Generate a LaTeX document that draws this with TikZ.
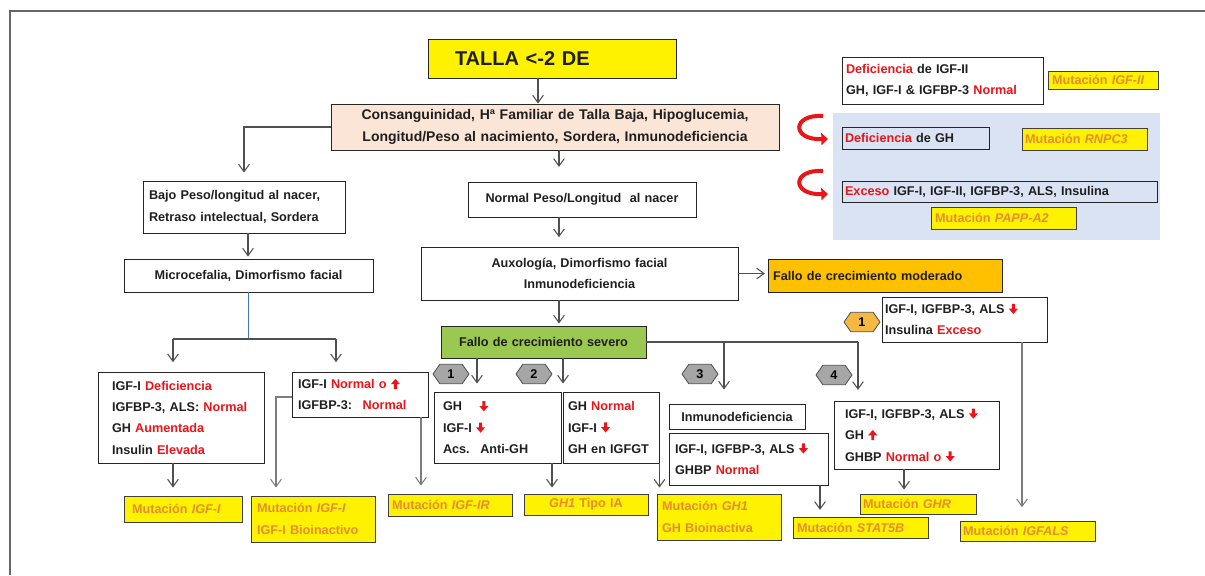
\documentclass[tikz,border=0pt]{standalone}
\usepackage{fontspec}
\setmainfont{Liberation Sans}
\usetikzlibrary{arrows.meta,shapes.symbols}
\definecolor{myred}{RGB}{235,20,25}
\definecolor{mutor}{RGB}{230,140,50}
\definecolor{peach}{RGB}{251,229,214}
\definecolor{panelc}{RGB}{218,227,243}
\definecolor{orng}{RGB}{255,192,0}
\definecolor{grn}{RGB}{155,200,80}
\definecolor{lnc}{RGB}{80,80,80}
\definecolor{lng}{RGB}{125,125,125}
\definecolor{hexg}{RGB}{166,166,166}
\definecolor{hexo}{RGB}{244,185,66}
\definecolor{bluel}{RGB}{68,114,196}
\newcommand{\rt}[1]{\textcolor{myred}{#1}}
\newcommand{\dna}{\tikz[baseline=0pt,x=1pt,y=1pt]{\fill[myred] (-1.1,7.3) -- (1.1,7.3) -- (1.1,3.7) -- (3.4,3.7) -- (0,-0.3) -- (-3.4,3.7) -- (-1.1,3.7) -- cycle;}}
\newcommand{\upa}{\tikz[baseline=0pt,x=1pt,y=1pt]{\fill[myred] (-1.1,-0.3) -- (1.1,-0.3) -- (1.1,3.3) -- (3.4,3.3) -- (0,7.3) -- (-3.4,3.3) -- (-1.1,3.3) -- cycle;}}
\newcommand{\bx}[8]{%
 \pgfmathsetmacro{\Bw}{(#4-#2)*0.75}%
 \pgfmathsetmacro{\Bh}{(#5-#3)*0.75}%
 \pgfmathsetmacro{\Bp}{#6*0.75}%
 \pgfmathsetmacro{\Tw}{\Bw-2*\Bp}%
 \node[#7, inner xsep=\Bp pt, inner ysep=0pt, text width=\Tw pt, minimum height=\Bh pt] (#1) at ({(#2+#4)/2},{(#3+#5)/2}) {#8};}
\tikzset{
 box/.style={draw=black!85, line width=0.7pt, text=black!88, align=left,
   font=\bfseries\fontsize{9.5}{16}\selectfont},
 cbox/.style={box, align=center},
 mut/.style={box, fill=yellow, text=mutor, draw=black!75},
 cmut/.style={mut, align=center},
 arr/.style={draw=lnc, line width=0.8pt, -{Straight Barb[length=5.5pt,width=8pt]}},
 arrg/.style={arr, draw=lng},
 ln/.style={draw=lnc, line width=0.8pt},
 hexn/.style={signal, signal to=east and west, signal pointer angle=110, draw=black!70,
   line width=0.6pt, fill=hexg, minimum width=27pt, minimum height=14.5pt, inner sep=0pt,
   font=\bfseries\fontsize{9.5}{10}\selectfont},
}
\begin{document}
\begin{tikzpicture}[x=0.75pt,y=-0.75pt]
\useasboundingbox (0,0) rectangle (1205,575);
\draw[draw=black!60, line width=1pt] (10,575) -- (10,11) -- (1205,11);
% right panel
\fill[panelc] (833,113) rectangle (1160,240);
% main boxes
\bx{talla}{428}{39}{676}{78}{27}{box, fill=yellow, font=\bfseries\fontsize{15}{18}\selectfont}{TALLA <-2 DE}
\bx{cons}{331}{104}{779}{150}{4}{cbox, fill=peach, font=\bfseries\fontsize{10.5}{16.5}\selectfont}{Consanguinidad, Hª Familiar de Talla Baja, Hipoglucemia,\\ Longitud/Peso al nacimiento,  Sordera, Inmunodeficiencia}
\bx{normal}{468}{182}{696}{217}{4}{cbox}{Normal Peso/Longitud~ al nacer}
\bx{bajo}{143}{181}{345}{233}{6}{box}{Bajo Peso/longitud al nacer,\\ Retraso intelectual, Sordera}
\bx{micro}{124}{259}{373}{292}{4}{cbox}{Microcefalia, Dimorfismo facial}
\bx{auxo}{421}{247}{738}{300}{4}{cbox}{Auxología, Dimorfismo facial\\ Inmunodeficiencia}
\bx{mod}{768}{259}{1002}{292}{5}{box, fill=orng}{Fallo de crecimiento moderado}
\bx{modigf}{882}{297}{1047}{342}{3}{box}{IGF-I, IGFBP-3, ALS \dna\\ Insulina \rt{Exceso}}
\bx{sev}{441}{326}{646}{358}{4}{cbox, fill=grn}{Fallo de crecimiento severo}
\bx{b1}{434}{392}{561}{463}{9}{box}{GH\hspace{13pt}\dna\\ IGF-I \dna\\ Acs.~ Anti-GH}
\bx{b2}{563}{392}{659}{463}{5}{box}{GH \rt{Normal}\\ IGF-I \dna\\ GH en IGFGT}
\bx{inm}{669}{404}{805}{429}{4}{cbox}{Inmunodeficiencia}
\bx{b3}{669}{433}{828}{485}{6}{box}{IGF-I, IGFBP-3, ALS \dna\\ GHBP \rt{Normal}}
\bx{b4}{834}{401}{999}{469}{11}{box}{IGF-I, IGFBP-3, ALS \dna\\ GH \upa\\ GHBP \rt{Normal o} \dna}
\bx{igfdef}{98}{372}{264}{463}{14}{box}{IGF-I \rt{Deficiencia}\\ IGFBP-3, ALS: \rt{Normal}\\ GH \rt{Aumentada}\\ Insulin \rt{Elevada}}
\bx{igfn}{292}{372}{428}{417}{6}{box}{IGF-I \rt{Normal o} \upa\\ IGFBP-3:~ \rt{Normal}}
% mutation boxes
\bx{migf1}{124}{496}{242}{522}{8}{mut}{Mutación \textit{IGF-I}}
\bx{migf1b}{251}{496}{375}{542}{6}{mut}{Mutación \textit{IGF-I}\\ IGF-I Bioinactivo}
\bx{migfir}{388}{494}{512}{516}{4}{mut}{Mutación \textit{IGF-IR}}
\bx{mtipo}{524}{494}{648}{515}{4}{cmut}{\textit{GH1} Tipo IA}
\bx{mgh1}{657}{494}{781}{540}{5}{mut}{Mutación \textit{GH1}\\ GH Bioinactiva}
\bx{mstat}{793}{517}{928}{538}{4}{mut}{Mutación \textit{STAT5B}}
\bx{mghr}{860}{494}{976}{514}{3}{mut}{Mutación \textit{GHR}}
\bx{mals}{960}{521}{1095}{541}{3}{mut}{Mutación \textit{IGFALS}}
% right panel boxes
\bx{defigf}{842}{57}{1043}{104}{4}{box, fill=white}{\rt{Deficiencia} de IGF-II\\ GH, IGF-I \& IGFBP-3 \rt{Normal}}
\bx{migf2}{1048}{71}{1158}{89}{4}{mut}{Mutación \textit{IGF-II}}
\bx{defgh}{842}{127}{989}{149}{3}{box}{\rt{Deficiencia} de GH}
\bx{mrnpc}{1022}{128}{1147}{150}{3}{mut}{Mutación \textit{RNPC3}}
\bx{exc}{842}{181}{1157}{202}{3}{box}{\rt{Exceso} IGF-I, IGF-II, IGFBP-3, ALS, Insulina}
\bx{mpapp}{931}{207}{1076}{229}{4}{mut}{Mutación \textit{PAPP-A2}}
% hexagons
\node[hexn] (h1) at (451,374) {1};
\node[hexn] (h2) at (534,374) {2};
\node[hexn] (h3) at (700,374) {3};
\node[hexn] (h4) at (834,375) {4};
\node[hexn, fill=hexo] (h1m) at (862,322) {1};
% red curved arrows
\draw[myred, line width=3pt, -{Triangle[length=5pt,width=9pt]}] (823,116) .. controls (792,114) and (791,140) .. (828,139);
\draw[myred, line width=3pt, -{Triangle[length=5pt,width=9pt]}] (823,171) .. controls (792,169) and (791,195) .. (828,194);
% helper coordinates
\coordinate (xa) at (538,0);
\coordinate (xc) at (559,0);
\coordinate (xm) at (248,0);
\coordinate (split) at (248,339);
\coordinate (splitL) at (173,339);
\coordinate (splitR) at (336,339);
\coordinate (xs1) at (477,0);
\coordinate (xs2) at (563,0);
\coordinate (c3) at (724,342);
\coordinate (c4) at (858,342);
\coordinate (xt) at (552,0);
\coordinate (xst) at (820,0);
\coordinate (xgh) at (904,0);
\coordinate (xal) at (1022,0);
\coordinate (xi) at (421,0);
\coordinate (xl) at (173,0);
\coordinate (ck) at (276,397);
% connectors
\draw[arr] (talla.south -| xa) -- (cons.north -| xa);
\draw[arr, shorten >=6pt] (cons.west) -| (bajo.north);
\draw[arr, shorten >=11pt] (cons.south -| xc) -- (normal.north -| xc);
\draw[arr, shorten >=1.5pt] (bajo.south -| xm) -- (micro.north -| xm);
\draw[draw=bluel, line width=0.6pt] (micro.south -| xm) -- (split);
\draw[ln] (splitL) -- (splitR);
\draw[arr, shorten >=7pt] (splitL) -- (igfdef.north -| splitL);
\draw[arr, shorten >=7pt] (splitR) -- (igfn.north -| splitR);
\draw[arr, shorten >=7pt] (normal.south -| xc) -- (auxo.north -| xc);
\draw[arr, shorten >=2pt] (auxo.east) -- (mod.west |- auxo.east);
\draw[arr, shorten >=1.5pt] (auxo.south -| xc) -- (sev.north -| xc);
\draw[arr, shorten >=6pt] (sev.south -| xs1) -- (b1.north -| xs1);
\draw[arr, shorten >=6pt] (sev.south -| xs2) -- (b2.north -| xs2);
\draw[ln] (sev.east) -- (c4);
\draw[arr, shorten >=10.5pt] (c3) -- (inm.north -| c3);
\draw[arr, shorten >=8pt] (c4) -- (b4.north -| c4);
\draw[arr, shorten >=4.5pt] (b1.south -| xt) -- (mtipo.north -| xt);
\draw[arr, shorten >=4.5pt] (b2.south east) -- (mgh1.north -| b2.south east);
\draw[arr, shorten >=5pt] (b3.south -| xst) -- (mstat.north -| xst);
\draw[arr, shorten >=3pt] (b4.south -| xgh) -- (mghr.north -| xgh);
\draw[arrg, shorten >=10pt] (modigf.south -| xal) -- (mals.north -| xal);
\draw[arr, shorten >=6pt] (igfdef.south -| xl) -- (migf1.north -| xl);
\draw[arrg, shorten >=6pt] (igfn.west |- ck) -| (migf1b.north -| ck);
\draw[arrg, shorten >=6pt] (igfn.south -| xi) -- (migfir.north -| xi);
\end{tikzpicture}
\end{document}
